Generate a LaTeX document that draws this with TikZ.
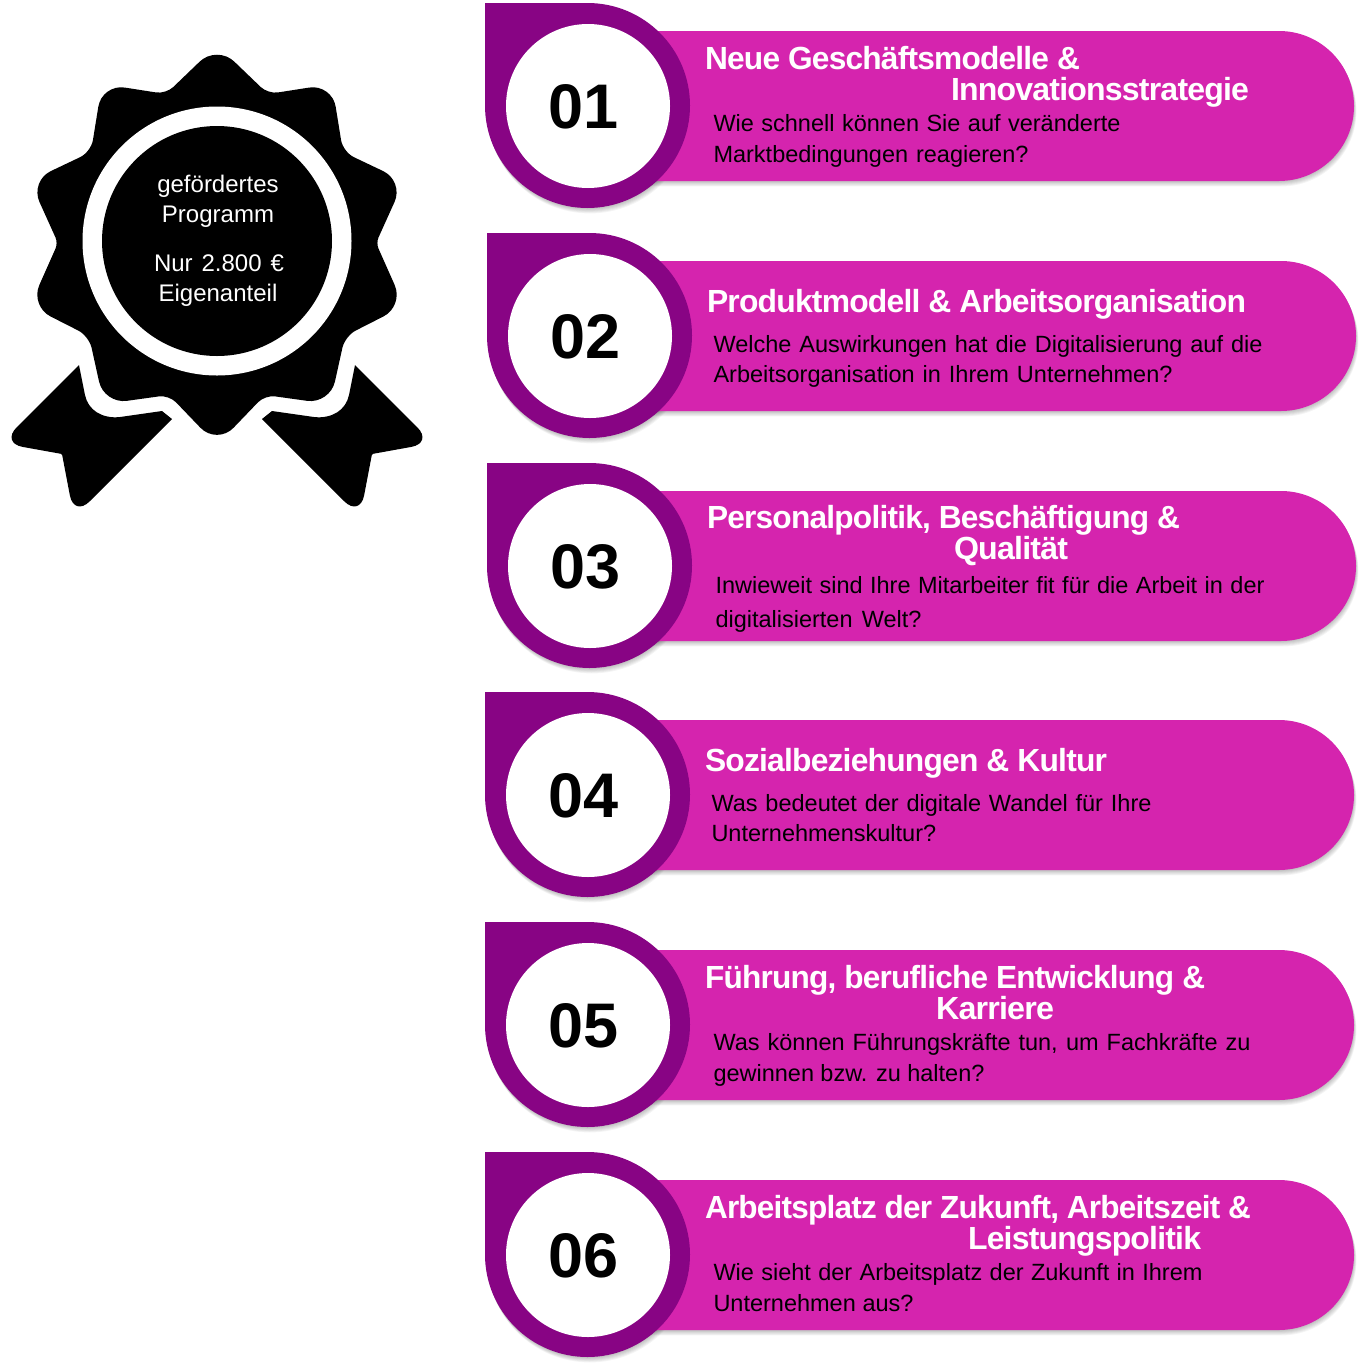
\documentclass[tikz,border=0pt]{standalone}
\usepackage{graphicx}
\usepackage{fontspec}
\setmainfont{Liberation Sans}
\definecolor{barmag}{HTML}{D524AE}
\definecolor{droppur}{HTML}{880484}
\newcommand{\bartitle}[5]{\node[txt,white] (#1) at (#2,#3) {\fontsize{32}{32}\selectfont\bfseries\addfontfeature{LetterSpace=-2.5}\resizebox{#4pt}{\height}{#5}};}
\newcommand{\barbody}[5]{\node[txt,black] (#1) at (#2-0.5,#3) {\fontsize{23.5}{24}\selectfont\makebox[#4pt][s]{#5}};}
\newcommand{\rowshape}[3]{%
  \foreach \i in {1,...,6}{
    \fill[black,opacity=.045,shift={(0.4*\i,0.9*\i)}] (640,#2+28) -- (#1+794,#2+28) arc[start angle=90,end angle=-90,radius=75pt] -- (640,#2+178) -- cycle;
    \fill[black,opacity=.045,shift={(0.4*\i,0.9*\i)}] (#1,#2) -- (#1+102.5,#2) arc[start angle=90,end angle=-180,radius=102.5pt] -- cycle;
  }
  \fill[barmag] (640,#2+28) -- (#1+794,#2+28) arc[start angle=90,end angle=-90,radius=75pt] -- (640,#2+178) -- cycle;
  \fill[droppur] (#1,#2) -- (#1+102.5,#2) arc[start angle=90,end angle=-180,radius=102.5pt] -- cycle;
  \node[holecirc] (hole#3) at (#1+103,#2+103) {};
  \node[numtxt] (num#3) at (#1+99,#2+125.5) {0#3};
}
\tikzset{
  txt/.style={anchor=base west,inner sep=0pt,outer sep=0pt},
  holecirc/.style={circle,fill=white,inner sep=0pt,minimum size=164pt},
  numtxt/.style={anchor=base,inner sep=0pt,font=\fontsize{63}{63}\selectfont\bfseries,text=black},
  badgetxt/.style={anchor=base,inner sep=0pt,text=white,font=\fontsize{24}{24}\selectfont},
  rc/.style={rounded corners=#1pt},
}
\begin{document}
\begin{tikzpicture}[x=1pt,y=-1pt]
\useasboundingbox (0,0) rectangle (1366,1366);
% ribbons
\fill[black] (79,365) [rc=22] -- (1,443) [rc=1] -- (62,454) [rc=22] -- (74,517) [sharp corners] -- (172,419) -- (162,411) -- (120,417) .. controls (102,419) and (88,410) .. (85,395) -- cycle;
\fill[black] (355,365) [rc=22] -- (433,443) [rc=1] -- (372,454) [rc=22] -- (360,517) [sharp corners] -- (262,419) -- (272,411) -- (314,417) .. controls (332,419) and (346,410) .. (349,395) -- cycle;
% star
\fill[black] (134,89) [rc=23] -- (102,84) [rc=12] -- (91,152) [rc=23] -- (30,181) [rc=6] -- (58,243) [rc=23] -- (30,306) [rc=12] -- (89,336) [rc=23] -- (104,404) [rc=10] -- (169,395) [rc=24] -- (217,445) [rc=10] -- (265,395) [rc=23] -- (330,404) [rc=12] -- (345,336) [rc=23] -- (404,306) [rc=6] -- (376,243) [rc=23] -- (404,181) [rc=12] -- (343,152) [rc=23] -- (332,84) [rc=10] -- (268,94) [rc=24] -- (217,45) [rc=10] -- (166,94) [sharp corners] -- cycle;
\node[circle,fill=white,inner sep=0pt,minimum size=269pt] (ring) at (217,241) {};
\node[circle,fill=black,inner sep=0pt,minimum size=230pt] (disc) at (217,241) {};
\node[badgetxt] (b1) at (218,192) {gefördertes};
\node[badgetxt] (b2) at (218,222) {Programm};
\node[badgetxt] (b3) at (219,271) {\makebox[130pt][s]{Nur 2.800 €}};
\node[badgetxt] (b4) at (218,301) {Eigenanteil};
% rows
\rowshape{485}{3}{1}
\rowshape{487}{233}{2}
\rowshape{487}{463}{3}
\rowshape{485}{692}{4}
\rowshape{485}{922}{5}
\rowshape{485}{1152}{6}
\bartitle{t1a}{705}{69}{375}{Neue Geschäftsmodelle \&}
\bartitle{t1b}{951}{100}{298}{Innovationsstrategie}
\barbody{d1a}{714}{131}{407}{Wie schnell können Sie auf veränderte}
\barbody{d1b}{714}{162}{315}{Marktbedingungen reagieren?}
\bartitle{t2a}{707}{312}{539}{Produktmodell \& Arbeitsorganisation}
\barbody{d2a}{714}{352}{549}{Welche Auswirkungen hat die Digitalisierung auf die}
\barbody{d2b}{714}{382}{459}{Arbeitsorganisation in Ihrem Unternehmen?}
\bartitle{t3a}{707}{528}{473}{Personalpolitik, Beschäftigung \&}
\bartitle{t3b}{954}{559}{114}{Qualität}
\barbody{d3a}{716}{593}{549}{Inwieweit sind Ihre Mitarbeiter fit für die Arbeit in der}
\barbody{d3b}{716}{627}{206}{digitalisierten Welt?}
\bartitle{t4a}{705}{771}{402}{Sozialbeziehungen \& Kultur}
\barbody{d4a}{712}{811}{440}{Was bedeutet der digitale Wandel für Ihre}
\barbody{d4b}{712}{841}{224}{Unternehmenskultur?}
\bartitle{t5a}{705}{988}{500}{Führung, berufliche Entwicklung \&}
\bartitle{t5b}{936}{1019}{118}{Karriere}
\barbody{d5a}{714}{1050}{537}{Was können Führungskräfte tun, um Fachkräfte zu}
\barbody{d5b}{714}{1081}{271}{gewinnen bzw. zu halten?}
\bartitle{t6a}{705}{1218}{546}{Arbeitsplatz der Zukunft, Arbeitszeit \&}
\bartitle{t6b}{968}{1249}{233}{Leistungspolitik}
\barbody{d6a}{714}{1280}{489}{Wie sieht der Arbeitsplatz der Zukunft in Ihrem}
\barbody{d6b}{714}{1311}{200}{Unternehmen aus?}
\end{tikzpicture}
\end{document}
